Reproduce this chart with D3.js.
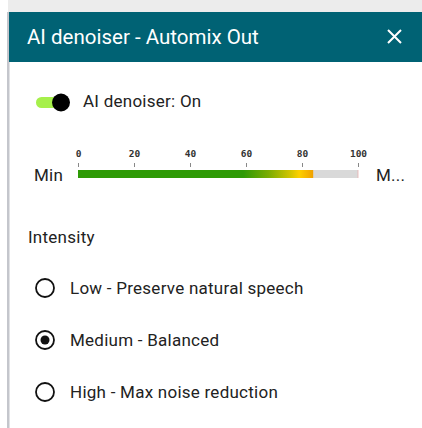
<!DOCTYPE html>
<html>
<head>
<meta charset="utf-8">
<script src="https://cdn.jsdelivr.net/npm/d3@7"></script>
<style>
  body { margin: 0; background: #fff; }
  text { font-family: Roboto, "Noto Sans", sans-serif; }
  .body-text { letter-spacing: 0.25px; }
</style>
</head>
<body>
<div id="vis"></div>
<script>
// panel content
const title = 'AI denoiser - Automix Out'
const toggleLabel = 'AI denoiser: On'
const meterTicks = [0, 20, 40, 60, 80, 100]
const meterValue = 84
const meterMin = 'Min', meterMax = 'M...'
const sectionLabel = 'Intensity'
const options = ['Low - Preserve natural speech', 'Medium - Balanced', 'High - Max noise reduction']
const selected = 'Medium - Balanced'

const width = 422, height = 428

const svg = d3.select('#vis')
    .append('svg')
    .attr('width', width)
    .attr('height', height)

// page background + left border
svg.append('rect').attr('width', width).attr('height', height).attr('fill', '#fff')
svg.append('rect').attr('x', 0).attr('y', 0).attr('width', width).attr('height', 12).attr('fill', '#ececec')
svg.append('rect').attr('x', 0).attr('y', 0).attr('width', 8).attr('height', height).attr('fill', '#fff')
svg.append('rect').attr('x', 7).attr('y', 12).attr('width', 2.5).attr('height', height).attr('fill', '#c4c6cc')

// header
svg.append('rect').attr('x', 9).attr('y', 12).attr('width', width - 9).attr('height', 50).attr('fill', '#006274')
svg.append('text').attr('x', 27).attr('y', 44).attr('fill', '#fff')
    .style('font-size', '20.5px').text(title)
svg.append('path').attr('d', 'M388,30 L401,43 M401,30 L388,43')
    .attr('stroke', '#fff').attr('stroke-width', 2)

// toggle
svg.append('rect').attr('x', 36).attr('y', 97).attr('width', 26).attr('height', 11).attr('rx', 5.5)
    .attr('fill', '#a6f04b')
svg.append('circle').attr('cx', 61).attr('cy', 102.5).attr('r', 9).attr('fill', '#000')
svg.append('text').attr('class', 'body-text').attr('x', 83).attr('y', 107).attr('fill', '#222')
    .style('font-size', '17px').text(toggleLabel)

// meter
const xScale = d3.scaleLinear().domain([0, 100]).range([78, 358])
const defs = svg.append('defs')
const grad = defs.append('linearGradient').attr('id', 'meterGrad')
    .attr('gradientUnits', 'userSpaceOnUse')
    .attr('x1', xScale(0)).attr('x2', xScale(meterValue))
const stops = [[0, '#2e9a06'], [59, '#2e9a06'], [68, '#7aac02'], [76, '#d4c500'], [79, '#fdd000'], [84, '#f0a000']]
grad.selectAll('stop').data(stops).join('stop')
    .attr('offset', d => d[0] / meterValue)
    .attr('stop-color', d => d[1])

svg.append('rect').attr('x', xScale(0)).attr('y', 170).attr('width', xScale(100) - xScale(0)).attr('height', 8)
    .attr('fill', '#d9d9d9')
svg.append('line').attr('x1', xScale(100)).attr('x2', xScale(100)).attr('y1', 170).attr('y2', 178)
    .attr('stroke', '#e8b0b0').attr('stroke-width', 0.8)
svg.append('rect').attr('x', xScale(0)).attr('y', 170).attr('width', xScale(meterValue) - xScale(0)).attr('height', 8)
    .attr('fill', 'url(#meterGrad)')

const axis = svg.append('g').attr('transform', 'translate(0,167)')
    .call(d3.axisTop(xScale).tickValues(meterTicks).tickSize(4).tickPadding(6))
axis.select('.domain').remove()
axis.selectAll('line').attr('stroke', '#888')
axis.selectAll('text').attr('fill', '#333')
    .style('font-family', '"DejaVu Sans Mono", monospace').style('font-size', '9.5px').style('font-weight', 'bold')

svg.append('text').attr('class', 'body-text').attr('x', 34).attr('y', 181).attr('fill', '#222').style('font-size', '17px').text(meterMin)
svg.append('text').attr('class', 'body-text').attr('x', 376).attr('y', 181).attr('fill', '#222').style('font-size', '17px').text(meterMax)

// intensity radios
svg.append('text').attr('class', 'body-text').attr('x', 28).attr('y', 243).attr('fill', '#222').style('font-size', '17px').text(sectionLabel)

const yScale = d3.scalePoint().domain(options).range([288, 392])
const rows = svg.selectAll('.opt').data(options).join('g')
    .attr('class', 'opt')
    .attr('transform', d => `translate(0,${yScale(d)})`)
rows.append('circle').attr('cx', 45).attr('cy', 0).attr('r', 9)
    .attr('fill', '#fff').attr('stroke', '#111').attr('stroke-width', 1.8)
rows.filter(d => d === selected).append('circle').attr('cx', 45).attr('cy', 0).attr('r', 4.5).attr('fill', '#111')
rows.append('text').attr('class', 'body-text').attr('x', 70).attr('y', 5.5).attr('fill', '#222').style('font-size', '17px').text(d => d)
</script>
</body>
</html>
